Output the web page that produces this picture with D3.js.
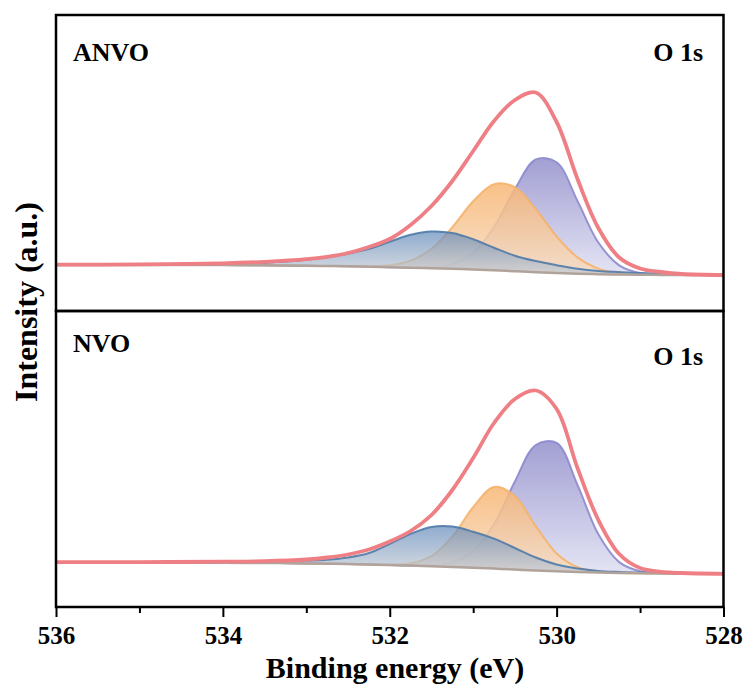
<!DOCTYPE html>
<html>
<head>
<meta charset="utf-8">
<script src="https://cdn.jsdelivr.net/npm/d3@7"></script>
<style>
  body { margin: 0; background: #fff; }
  svg { display: block; }
</style>
</head>
<body>
<svg id="chart" width="748" height="687"></svg>
<script>
// Binding-energy grid (eV) shared by every series
const energy = [536, 535, 534, 533.5, 533, 532.75, 532.5, 532.25, 532, 531.75, 531.5, 531.25,
                531, 530.75, 530.5, 530.25, 530, 529.75, 529.5, 529.25, 529, 528.75, 528.5, 528];

// ANVO O 1s fit (a.u.): background and component heights above it, plus the envelope
const anvoBackground = [46, 46, 46, 45.7, 45.3, 45, 44.7, 44.3, 43.8, 43.3, 42.8, 42.2,
                        41.5, 40.7, 39.8, 38.8, 38, 37.3, 36.8, 36.5, 36.2, 36.1, 36, 36];
const anvoAdsorbed   = [0.3, 0.5, 1.4, 2.6, 5.9, 8.9, 12.6, 17.8, 25.5, 32.9, 36.6, 35.7,
                        30.3, 22.6, 15.5, 11.1, 7.8, 5.0, 3.3, 2.4, 1.7, 1.3, 1.0, 0.6];
const anvoVacancy    = [0, 0, 0, 0, 0, 0, 0.1, 0.4, 2.0, 7.1, 19.5, 41.6,
                        68.2, 86.2, 84.0, 63.1, 36.5, 16.3, 5.6, 1.5, 0.3, 0, 0, 0];
const anvoLattice    = [0, 0, 0, 0, 0, 0, 0, 0, 0, 0.1, 0.9, 4.6,
                        16.6, 43.3, 82.2, 112.7, 110.7, 72.8, 31.7, 9.2, 1.8, 0.2, 0, 0];
const anvoEnvelope   = [46.4, 46.6, 47.7, 49.2, 51.8, 54.2, 58, 64, 72, 86, 105, 130,
                        160, 190, 211, 218.5, 189, 132, 83, 53.5, 42.5, 39, 37, 36];

// NVO O 1s fit (a.u.)
const nvoBackground = [44.5, 44.4, 44.2, 44, 43.6, 43.3, 43, 42.5, 42, 41.4, 40.8, 40.1,
                       39.3, 38.4, 37.5, 36.5, 35.7, 35, 34.4, 34, 33.7, 33.5, 33.4, 33.2];
const nvoAdsorbed   = [0.3, 0.5, 1.0, 1.6, 2.8, 4.0, 6.5, 11.5, 21.1, 31.8, 39.2, 40.3,
                       36.0, 30.0, 21.5, 13.0, 6.8, 3.4, 1.6, 1.0, 0.7, 0.5, 0.4, 0.2];
const nvoVacancy    = [0, 0, 0, 0, 0, 0, 0, 0, 0.3, 2.3, 10.1, 30.2,
                       60.6, 81.6, 73.5, 44.4, 17.9, 4.9, 0.9, 0.1, 0, 0, 0, 0];
const nvoLattice    = [0, 0, 0, 0, 0, 0, 0, 0, 0, 0.1, 0.8, 4.4,
                       16.4, 44.6, 88.0, 125.5, 128.5, 87.1, 38.3, 10.9, 2.0, 0.2, 0, 0];
const nvoEnvelope   = [44.8, 44.9, 45.3, 45.8, 47.5, 49.5, 52.5, 57.5, 65.5, 76, 92, 117,
                       149, 184, 208, 216.5, 198, 139, 87, 53, 39, 35.2, 34, 33.2];

const sampleNames = ["ANVO", "NVO"];
const regionName = "O 1s";
const majorTicks = [536, 534, 532, 530, 528];
const minorTicks = [535, 533, 531, 529];
const xTitle = "Binding energy (eV)";
const yTitle = "Intensity (a.u.)";

const svg = d3.select("#chart");
const font = "'Liberation Serif', 'Times New Roman', serif";

const left = 56, right = 723.5;
const panelTops = [15, 311];
const panelHeight = 296;
const x = d3.scaleLinear().domain([536, 528]).range([left, right]);

// fill gradients for the fitted components
const defs = svg.append("defs");
function gradient(id, top, bottom, op) {
  const g = defs.append("linearGradient").attr("id", id)
    .attr("x1", 0).attr("y1", 0).attr("x2", 0).attr("y2", 1);
  g.append("stop").attr("offset", "0%").attr("stop-color", top).attr("stop-opacity", op);
  g.append("stop").attr("offset", "100%").attr("stop-color", bottom).attr("stop-opacity", op);
}
gradient("gLattice", "#9d9ad0", "#e3e3f4", 0.95);
gradient("gVacancy", "#f8b674", "#f6dcc2", 0.85);
gradient("gAdsorbed", "#5f88ba", "#c9ced5", 0.7);

const panels = [
  { name: sampleNames[0], bg: anvoBackground, comps: [anvoLattice, anvoVacancy, anvoAdsorbed],
    env: anvoEnvelope, nameY: 61, tagY: 61 },
  { name: sampleNames[1], bg: nvoBackground, comps: [nvoLattice, nvoVacancy, nvoAdsorbed],
    env: nvoEnvelope, nameY: 352, tagY: 365 }
];

const compStyle = [
  { fill: "url(#gLattice)", stroke: "#8d8ace" },
  { fill: "url(#gVacancy)", stroke: "#f5b36a" },
  { fill: "url(#gAdsorbed)", stroke: "#4f7aa8" }
];

const curve = d3.curveCatmullRom.alpha(0.5);

panels.forEach((p, k) => {
  const top = panelTops[k];
  const y = d3.scaleLinear().domain([0, panelHeight]).range([top + panelHeight, top]);
  const clipId = "clip" + k;
  defs.append("clipPath").attr("id", clipId)
    .append("rect").attr("x", left).attr("y", top).attr("width", right - left).attr("height", panelHeight);
  const g = svg.append("g").attr("clip-path", `url(#${clipId})`);

  p.comps.forEach((c, j) => {
    const area = d3.area()
      .x((d, i) => x(energy[i]))
      .y0((d, i) => y(p.bg[i]))
      .y1((d, i) => y(p.bg[i] + c[i]))
      .curve(curve);
    const line = d3.line()
      .x((d, i) => x(energy[i]))
      .y((d, i) => y(p.bg[i] + c[i]))
      .curve(curve);
    g.append("path").datum(c).attr("d", area).attr("fill", compStyle[j].fill).attr("stroke", "none");
    g.append("path").datum(c).attr("d", line).attr("fill", "none")
      .attr("stroke", compStyle[j].stroke).attr("stroke-width", 2).attr("stroke-opacity", 0.9);
  });

  const seriesLine = d3.line().x((d, i) => x(energy[i])).y(d => y(d)).curve(curve);
  g.append("path").datum(p.bg).attr("d", seriesLine).attr("fill", "none")
    .attr("stroke", "#b0a39c").attr("stroke-width", 2.5);

  g.append("path").datum(p.env).attr("d", seriesLine).attr("fill", "none")
    .attr("stroke", "#ee7f85").attr("stroke-width", 3.8).attr("stroke-linejoin", "round");

  svg.append("text").attr("x", 73).attr("y", p.nameY).text(p.name)
    .attr("font-family", font).attr("font-weight", "bold").attr("font-size", 26);
  svg.append("text").attr("x", 703).attr("y", p.tagY).attr("text-anchor", "end").text(regionName)
    .attr("font-family", font).attr("font-weight", "bold").attr("font-size", 26);

  svg.append("rect").attr("x", left).attr("y", top).attr("width", right - left).attr("height", panelHeight)
    .attr("fill", "none").attr("stroke", "#000").attr("stroke-width", 2.5);
});

// bottom axis: labelled major ticks and shorter minor ticks, pointing outward
const axisY = panelTops[1] + panelHeight;
const major = svg.append("g").attr("transform", `translate(0,${axisY})`)
  .call(d3.axisBottom(x).tickValues(majorTicks).tickSize(10).tickSizeOuter(0).tickFormat(d3.format("d")));
major.select(".domain").remove();
major.selectAll("line").attr("stroke", "#000").attr("stroke-width", 2);
major.selectAll("text").attr("y", 37).attr("dy", 0)
  .attr("font-family", font).attr("font-weight", "bold").attr("font-size", 25).attr("fill", "#000");

const minor = svg.append("g").attr("transform", `translate(0,${axisY})`)
  .call(d3.axisBottom(x).tickValues(minorTicks).tickSize(6).tickSizeOuter(0).tickFormat(""));
minor.select(".domain").remove();
minor.selectAll("line").attr("stroke", "#000").attr("stroke-width", 2);

svg.append("text").attr("x", 395).attr("y", 678).attr("text-anchor", "middle").text(xTitle)
  .attr("font-family", font).attr("font-weight", "bold").attr("font-size", 30);

svg.append("text").attr("transform", "translate(37,302) rotate(-90)").attr("text-anchor", "middle").text(yTitle)
  .attr("font-family", font).attr("font-weight", "bold").attr("font-size", 32);
</script>
</body>
</html>
